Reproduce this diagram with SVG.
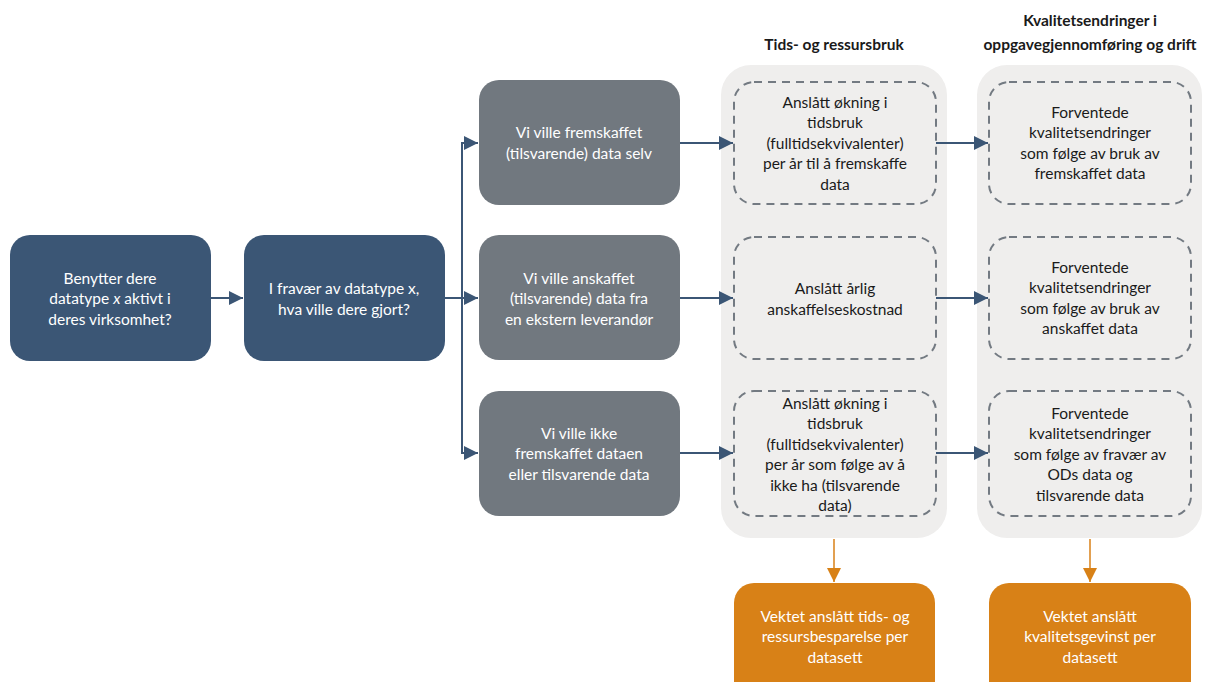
<svg xmlns="http://www.w3.org/2000/svg" width="1205" height="682" viewBox="0 0 1205 682">
<defs>
<style>
text{font-family:Lato,"Open Sans","Liberation Sans",sans-serif;font-size:15.5px;text-anchor:middle}
.w{fill:#ffffff}
.k{fill:#1a1a1a}
.h{font-weight:bold;fill:#1a1a1a}
.dark{fill:#3b5675}
.grey{fill:#71787f}
.org{fill:#d88117}
.panel{fill:#efeeed}
.dash{fill:none;stroke:#737a82;stroke-width:2;stroke-dasharray:8 6}
.c{fill:none;stroke:#3b5675;stroke-width:2}
.o{fill:none;stroke:#d88117;stroke-width:1.5}
</style>
<marker id="ab" viewBox="0 0 10 10" refX="10" refY="5" markerWidth="14" markerHeight="14" orient="auto" markerUnits="userSpaceOnUse"><path d="M0,0L10,5L0,10z" fill="#3b5675"/></marker>
<marker id="ao" viewBox="0 0 10 10" refX="10" refY="5" markerWidth="14" markerHeight="14" orient="auto" markerUnits="userSpaceOnUse"><path d="M0,0L10,5L0,10z" fill="#d88117"/></marker>
</defs>

<g id="headers">
<text class="h" x="834" y="50">Tids- og ressursbruk</text>
<text class="h" x="1090" y="26">Kvalitetsendringer i</text>
<text class="h" x="1090" y="50">oppgavegjennomføring og drift</text>
</g>

<g id="panel1"><rect class="panel" x="721" y="65" width="226" height="473" rx="30"/></g>
<g id="panel2"><rect class="panel" x="977" y="65" width="225" height="473" rx="30"/></g>

<g id="connectors">
<line class="c" x1="211" y1="298" x2="243" y2="298" marker-end="url(#ab)"/>
<line class="c" x1="445" y1="298" x2="478" y2="298" marker-end="url(#ab)"/>
<polyline class="c" points="478,143 462,143 462,453 478,453" marker-end="url(#ab)"/>
<line class="c" x1="462" y1="143" x2="478" y2="143" marker-end="url(#ab)"/>
<line class="c" x1="680" y1="143" x2="733" y2="143" marker-end="url(#ab)"/>
<line class="c" x1="680" y1="298" x2="733" y2="298" marker-end="url(#ab)"/>
<line class="c" x1="680" y1="453" x2="733" y2="453" marker-end="url(#ab)"/>
<line class="c" x1="936" y1="143" x2="988" y2="143" marker-end="url(#ab)"/>
<line class="c" x1="936" y1="298" x2="988" y2="298" marker-end="url(#ab)"/>
<line class="c" x1="936" y1="453" x2="988" y2="453" marker-end="url(#ab)"/>
<line class="o" x1="834" y1="539" x2="834" y2="582" marker-end="url(#ao)"/>
<line class="o" x1="1090" y1="539" x2="1090" y2="582" marker-end="url(#ao)"/>
</g>

<g id="n1"><rect class="dark" x="10" y="235" width="201" height="126" rx="20"/>
<text class="w" x="110" y="284">Benytter dere</text>
<text class="w" x="110" y="304">datatype <tspan font-style="italic">x</tspan> aktivt i</text>
<text class="w" x="110" y="325">deres virksomhet?</text></g>

<g id="n2"><rect class="dark" x="244" y="235" width="201" height="126" rx="20"/>
<text class="w" x="344" y="294">I fravær av datatype x,</text>
<text class="w" x="344" y="315">hva ville dere gjort?</text></g>

<g id="g1"><rect class="grey" x="479" y="80" width="201" height="125" rx="20"/>
<text class="w" x="579" y="138">Vi ville fremskaffet</text>
<text class="w" x="579" y="159">(tilsvarende) data selv</text></g>

<g id="g2"><rect class="grey" x="479" y="235" width="201" height="125" rx="20"/>
<text class="w" x="579" y="284">Vi ville anskaffet</text>
<text class="w" x="579" y="304">(tilsvarende) data fra</text>
<text class="w" x="579" y="325">en ekstern leverandør</text></g>

<g id="g3"><rect class="grey" x="479" y="391" width="201" height="125" rx="20"/>
<text class="w" x="579" y="439">Vi ville ikke</text>
<text class="w" x="579" y="459">fremskaffet dataen</text>
<text class="w" x="579" y="480">eller tilsvarende data</text></g>

<g id="d1"><rect class="dash" x="734" y="82" width="202" height="122" rx="20"/>
<text class="k" x="835" y="108">Anslått økning i</text>
<text class="k" x="835" y="128">tidsbruk</text>
<text class="k" x="835" y="149">(fulltidsekvivalenter)</text>
<text class="k" x="835" y="169">per år til å fremskaffe</text>
<text class="k" x="835" y="190">data</text></g>

<g id="d2"><rect class="dash" x="734" y="237" width="202" height="122" rx="20"/>
<text class="k" x="835" y="294">Anslått årlig</text>
<text class="k" x="835" y="315">anskaffelseskostnad</text></g>

<g id="d3"><rect class="dash" x="734" y="391" width="202" height="125" rx="20"/>
<text class="k" x="835" y="409">Anslått økning i</text>
<text class="k" x="835" y="429">tidsbruk</text>
<text class="k" x="835" y="450">(fulltidsekvivalenter)</text>
<text class="k" x="835" y="470">per år som følge av å</text>
<text class="k" x="835" y="491">ikke ha (tilsvarende</text>
<text class="k" x="835" y="511">data)</text></g>

<g id="e1"><rect class="dash" x="989" y="82" width="202" height="122" rx="20"/>
<text class="k" x="1090" y="118">Forventede</text>
<text class="k" x="1090" y="138">kvalitetsendringer</text>
<text class="k" x="1090" y="159">som følge av bruk av</text>
<text class="k" x="1090" y="179">fremskaffet data</text></g>

<g id="e2"><rect class="dash" x="989" y="237" width="202" height="122" rx="20"/>
<text class="k" x="1090" y="273">Forventede</text>
<text class="k" x="1090" y="293">kvalitetsendringer</text>
<text class="k" x="1090" y="314">som følge av bruk av</text>
<text class="k" x="1090" y="334">anskaffet data</text></g>

<g id="e3"><rect class="dash" x="989" y="391" width="202" height="125" rx="20"/>
<text class="k" x="1090" y="419">Forventede</text>
<text class="k" x="1090" y="439">kvalitetsendringer</text>
<text class="k" x="1090" y="460">som følge av fravær av</text>
<text class="k" x="1090" y="480">ODs data og</text>
<text class="k" x="1090" y="501">tilsvarende data</text></g>

<g id="o1"><rect class="org" x="734" y="583" width="201" height="120" rx="20"/>
<text class="w" x="835" y="622">Vektet anslått tids- og</text>
<text class="w" x="835" y="642">ressursbesparelse per</text>
<text class="w" x="835" y="663">datasett</text></g>

<g id="o2"><rect class="org" x="989" y="583" width="202" height="120" rx="20"/>
<text class="w" x="1090" y="622">Vektet anslått</text>
<text class="w" x="1090" y="642">kvalitetsgevinst per</text>
<text class="w" x="1090" y="663">datasett</text></g>
</svg>
